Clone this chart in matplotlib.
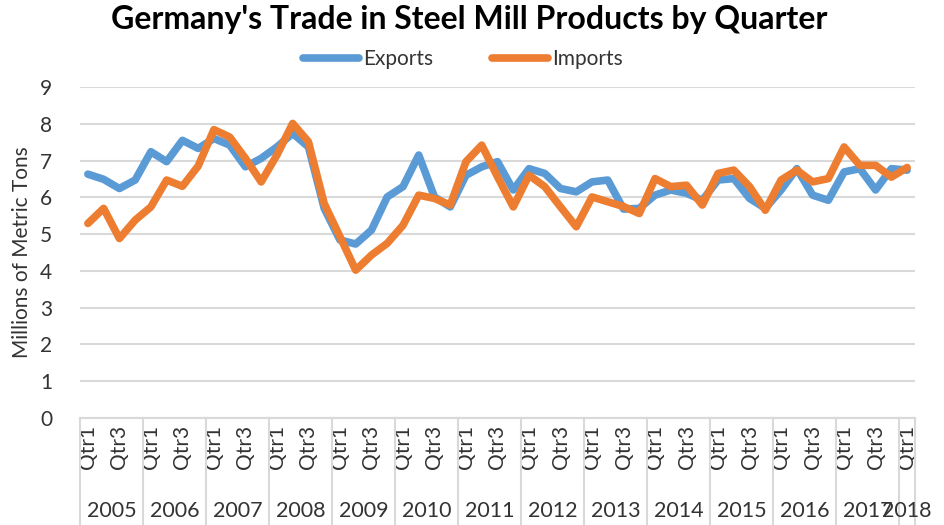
import matplotlib
matplotlib.use("Agg")
import matplotlib.pyplot as plt
import matplotlib.transforms as mtransforms

plt.rcParams['font.family'] = ['Lato', 'DejaVu Sans']

years = [str(y) for y in range(2005, 2019)]
quarters = ["Qtr1", "Qtr2", "Qtr3", "Qtr4"]

exports = [6.63, 6.49, 6.24, 6.47, 7.24, 6.97, 7.55, 7.33, 7.60, 7.42,
           6.83, 7.06, 7.37, 7.74, 7.37, 5.70, 4.84, 4.73, 5.11, 6.01,
           6.29, 7.15, 6.01, 5.74, 6.60, 6.83, 6.97, 6.20, 6.78, 6.65,
           6.24, 6.15, 6.42, 6.47, 5.68, 5.70, 6.06, 6.20, 6.11, 5.92,
           6.47, 6.51, 5.97, 5.70, 6.20, 6.78, 6.06, 5.92, 6.69, 6.78,
           6.20, 6.78, 6.74]
imports = [5.29, 5.70, 4.88, 5.38, 5.74, 6.47, 6.30, 6.85, 7.84, 7.64,
           7.06, 6.42, 7.15, 8.01, 7.51, 5.83, 4.93, 4.02, 4.43, 4.75,
           5.24, 6.06, 5.97, 5.79, 6.97, 7.42, 6.56, 5.74, 6.60, 6.29,
           5.74, 5.20, 6.01, 5.88, 5.75, 5.56, 6.51, 6.29, 6.33, 5.79,
           6.65, 6.74, 6.29, 5.65, 6.47, 6.74, 6.42, 6.51, 7.37, 6.87,
           6.87, 6.55, 6.81]

n = len(exports)
x = list(range(n))
tick_labels = []
for i in range(n):
    q = quarters[i % 4]
    tick_labels.append(q if q in ("Qtr1", "Qtr3") else "")

fig = plt.figure(figsize=(9.45, 5.25), dpi=100)
ax = fig.add_axes([80/945, 107/525, 835/945, 331/525])

c_exp = "#5B9BD5"
c_imp = "#ED7D31"
ax.plot(x, exports, color=c_exp, lw=5.5, solid_joinstyle='round', solid_capstyle='round', label="Exports", zorder=3)
ax.plot(x, imports, color=c_imp, lw=5.5, solid_joinstyle='round', solid_capstyle='round', label="Imports", zorder=4)

ax.set_xlim(-0.5, n - 0.5)
ax.set_ylim(0, 9)
ax.set_yticks(range(0, 10))
ax.yaxis.grid(True, color="#d9d9d9", lw=1.5)
ax.set_axisbelow(True)
for s in ["top", "right", "left"]:
    ax.spines[s].set_visible(False)
ax.spines["bottom"].set_color("#d9d9d9")
ax.spines["bottom"].set_linewidth(1.5)

ax.set_xticks(x)
ax.set_xticklabels(tick_labels, rotation=90, fontsize=15, color="#333333")
ax.tick_params(axis='x', length=0, pad=5)
ax.tick_params(axis='y', length=0, pad=20, labelsize=15, labelcolor="#333333")

ax.set_ylabel("Millions of Metric Tons", fontsize=15, color="#333333", labelpad=6)

# group separators and year labels
trans = mtransforms.blended_transform_factory(ax.transData, ax.transAxes)
bounds = list(range(0, n, 4)) + [n]
for b in bounds:
    ax.plot([b - 0.5, b - 0.5], [0, -107/331], transform=trans, color="#d9d9d9", lw=1.5, clip_on=False)
for k, yr in enumerate(years):
    start = 4 * k
    end = min(start + 4, n)
    if start >= n:
        break
    cx = (start + end - 1) / 2
    ax.text(cx, -93/331, yr, transform=trans, ha="center", va="center", fontsize=15.5, color="#333333")

fig.text(0.497, 0.962, "Germany's Trade in Steel Mill Products by Quarter", ha="center", va="center",
         fontsize=23, fontweight="bold", color="#000000")

leg = fig.legend(loc="center", bbox_to_anchor=(0.49, 0.887), ncol=2, frameon=False,
                 fontsize=15, handlelength=2.7, handletextpad=0.2, columnspacing=2.8)
for t in leg.get_texts():
    t.set_color("#333333")

fig.savefig("out.png", dpi=100)
